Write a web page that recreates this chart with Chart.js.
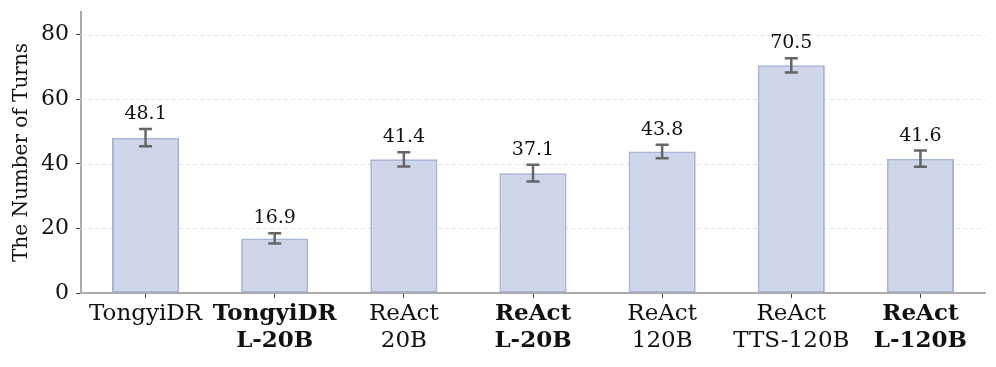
<!DOCTYPE html>
<html>
<head>
<meta charset="utf-8">
<script src="https://cdn.jsdelivr.net/npm/chart.js@4"></script>
<style>
  html, body { margin: 0; padding: 0; background: #fff; }
  #wrap { width: 996px; height: 367px; }
</style>
</head>
<body>
<div id="wrap"><canvas id="chart" width="996" height="367"></canvas></div>
<script>
// Data
const labels = [
  'TongyiDR',
  ['TongyiDR', 'L-20B'],
  ['ReAct', '20B'],
  ['ReAct', 'L-20B'],
  ['ReAct', '120B'],
  ['ReAct', 'TTS-120B'],
  ['ReAct', 'L-120B']
];
const turns = [48.1, 16.9, 41.4, 37.1, 43.8, 70.5, 41.6];
const errs = [2.7, 1.6, 2.2, 2.6, 2.1, 2.2, 2.5];
const boldIdx = [1, 3, 6];
const yTicks = [0, 20, 40, 60, 80];

const FONT = "'DejaVu Serif', serif";
const BAR_FILL = '#cfd6ea';
const BAR_EDGE = '#a8b5d9';
const ERR_COLOR = '#666666';
const AXIS_COLOR = '#aaaaaa';

// error bars + value labels on top
const errorBars = {
  id: 'errorBars',
  afterDatasetsDraw(chart) {
    const { ctx, scales: { x, y } } = chart;
    ctx.save();
    ctx.strokeStyle = ERR_COLOR;
    ctx.lineWidth = 2.5;
    turns.forEach((v, i) => {
      const cx = x.getPixelForValue(i);
      const top = y.getPixelForValue(v + errs[i]);
      const bot = y.getPixelForValue(v - errs[i]);
      ctx.beginPath();
      ctx.moveTo(cx, top); ctx.lineTo(cx, bot);
      ctx.moveTo(cx - 6.5, top); ctx.lineTo(cx + 6.5, top);
      ctx.moveTo(cx - 6.5, bot); ctx.lineTo(cx + 6.5, bot);
      ctx.stroke();
      ctx.fillStyle = '#111';
      ctx.font = '19px ' + FONT;
      ctx.textAlign = 'center';
      ctx.textBaseline = 'alphabetic';
      ctx.fillText(v.toFixed(1), cx, top - 10);
    });
    ctx.restore();
  }
};

// dashed horizontal grid, drawn under the bars
const grid = {
  id: 'grid',
  beforeDatasetsDraw(chart) {
    const { ctx, chartArea, scales: { y } } = chart;
    ctx.save();
    ctx.strokeStyle = '#e2e2e2';
    ctx.lineWidth = 1;
    ctx.setLineDash([4, 3]);
    yTicks.slice(1).forEach(t => {
      const py = Math.round(y.getPixelForValue(t)) + 0.5;
      ctx.beginPath();
      ctx.moveTo(chartArea.left, py);
      ctx.lineTo(chartArea.right, py);
      ctx.stroke();
    });
    ctx.restore();
  }
};

new Chart(document.getElementById('chart'), {
  type: 'bar',
  data: {
    labels: labels,
    datasets: [{
      data: turns,
      backgroundColor: BAR_FILL,
      borderColor: BAR_EDGE,
      borderWidth: 2,
      borderSkipped: false,
      categoryPercentage: 1,
      barPercentage: 0.52
    }]
  },
  options: {
    responsive: false,
    animation: false,
    layout: { padding: { left: 0, right: 11, top: 12, bottom: 0 } },
    plugins: { legend: { display: false }, tooltip: { enabled: false } },
    scales: {
      x: {
        offset: true,
        grid: { display: true, offset: false, drawOnChartArea: false, drawTicks: true, tickLength: 5, color: '#444' },
        border: { display: true, color: AXIS_COLOR, width: 2 },
        ticks: {
          color: '#111',
          padding: 3,
          maxRotation: 0,
          autoSkip: false,
          font: c => ({ family: FONT, size: 23, weight: boldIdx.includes(c.index) ? 'bold' : 'normal', lineHeight: 1.17 })
        },
        afterFit: s => { s.height = 74; s.paddingLeft = 0; s.paddingRight = 0; }
      },
      y: {
        min: 0,
        max: 87,
        afterBuildTicks: s => { s.ticks = yTicks.map(v => ({ value: v })); },
        grid: { drawOnChartArea: false, drawTicks: true, tickLength: 5, color: '#444' },
        border: { display: true, color: AXIS_COLOR, width: 2 },
        ticks: { color: '#111', padding: 7, font: { family: FONT, size: 22 } },
        title: { display: true, text: 'The Number of Turns', color: '#111', font: { family: FONT, size: 20 }, padding: { top: 10, bottom: 0 } },
        afterFit: s => { s.width = 81; s.paddingTop = 0; s.paddingBottom = 0; }
      }
    }
  },
  plugins: [grid, errorBars]
});
</script>
</body>
</html>
